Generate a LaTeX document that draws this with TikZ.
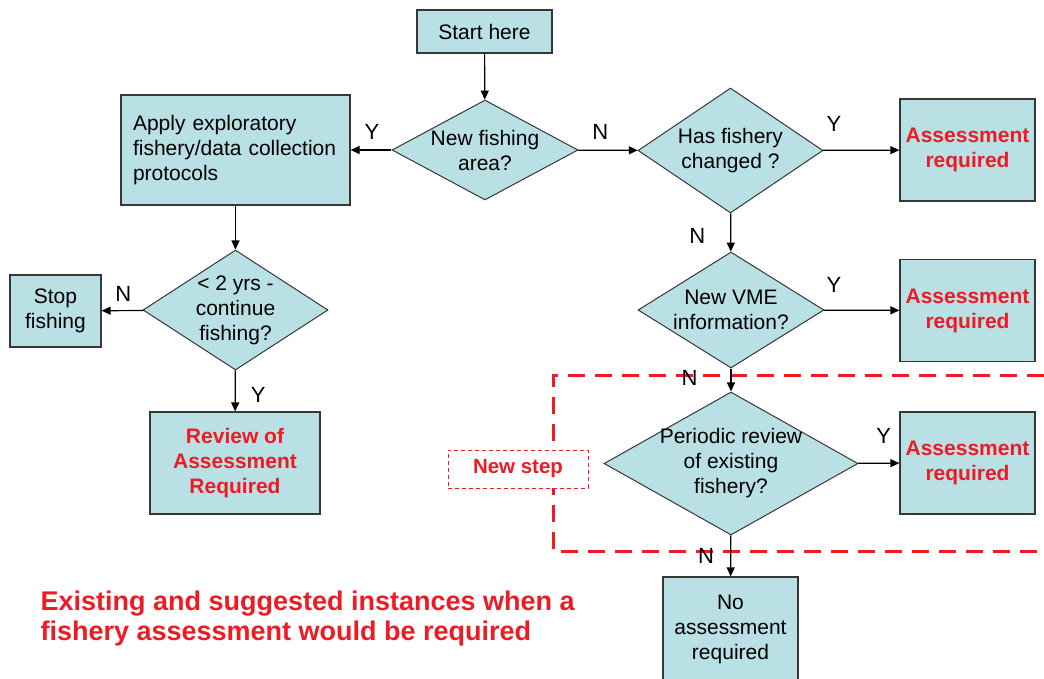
\documentclass[tikz,border=0pt]{standalone}
\usepackage{fontspec}
\setmainfont{Liberation Sans}
\usetikzlibrary{shapes.geometric,arrows.meta}
\definecolor{boxfill}{RGB}{185,224,228}
\definecolor{alertred}{RGB}{237,28,36}
\definecolor{edgegray}{RGB}{55,55,55}
\tikzset{
  box/.style={draw=edgegray, fill=boxfill, line width=1.2pt, inner sep=0pt, align=center, font=\fontsize{21}{25}\selectfont},
  decision/.style={diamond, draw=edgegray, fill=boxfill, line width=1pt, inner sep=0pt},
  dtext/.style={align=center, font=\fontsize{21}{25}\selectfont},
  arr/.style={-{Triangle[length=9pt,width=8pt]}, line width=1.2pt},
  lbl/.style={font=\fontsize{22}{24}\selectfont, inner sep=2pt},
  alert/.style={text=alertred, font=\bfseries\fontsize{21}{25}\selectfont},
}
\begin{document}
\begin{tikzpicture}[x=1pt,y=-1pt]
\useasboundingbox (0,0) rectangle (1044,679);

% new step frame
\draw[alertred, line width=3pt, dash pattern=on 17pt off 10pt] (1044,375) -- (553,375) -- (553,551) -- (1044,551);
\node[draw=alertred, fill=white, line width=0.8pt, dash pattern=on 4pt off 3pt, minimum width=140pt, minimum height=38pt, text=alertred, font=\bfseries\fontsize{20.5}{22}\selectfont] (newstep) at (518,469) {New step};

% boxes
\node[box, minimum width=135pt, minimum height=43pt] (start) at (484.5,31.5) {Start here};
\node[box, minimum width=229pt, minimum height=110pt, text width=205pt, align=left] (apply) at (235.5,150) {Apply exploratory\\fishery/data collection\\protocols};
\node[box, minimum width=91pt, minimum height=72pt] (stop) at (55.5,311) {Stop\\fishing};
\node[box, minimum width=170pt, minimum height=102pt, alert] (review) at (235,463) {Review of\\Assessment\\Required};
\node[box, minimum width=135pt, minimum height=102pt, alert] (assA) at (967.5,150) {Assessment\\required};
\node[box, minimum width=135pt, minimum height=102pt, alert] (assB) at (967.5,310.5) {Assessment\\required};
\node[box, minimum width=135pt, minimum height=102pt, alert] (assC) at (967.5,463) {Assessment\\required};
\node[box, minimum width=135pt, minimum height=104pt] (noass) at (730.5,629) {No\\assessment\\required};

% decisions
\node[decision, minimum width=186pt, minimum height=100pt, label={[dtext]center:New fishing\\area?}] (newarea) at (485,150) {};
\node[decision, minimum width=185pt, minimum height=125pt, label={[dtext]center:Has fishery\\changed ?}] (changed) at (730.5,150.5) {};
\node[decision, minimum width=186pt, minimum height=116pt, label={[dtext]center:New VME\\information?}] (vme) at (731,310) {};
\node[decision, minimum width=254pt, minimum height=143pt, label={[dtext]center:Periodic review\\of existing\\fishery?}] (periodic) at (731,463.5) {};
\node[decision, minimum width=185pt, minimum height=120pt, label={[dtext]center:< 2 yrs -\\continue\\fishing?}] (twoyrs) at (235.5,310) {};

% connectors
\draw[arr] (start) -- (newarea);
\draw[arr] (newarea) -- node[lbl, pos=0.48, above=8pt] {Y} (apply);
\draw[arr] (newarea) -- node[lbl, pos=0.37, above=8pt] {N} (changed);
\draw[arr] (changed) -- node[lbl, pos=0.14, above=16pt] {Y} (assA);
\draw[arr] (changed) -- node[lbl, pos=0.59, left=23pt] {N} (vme);
\draw[arr] (vme) -- node[lbl, pos=0.13, above=15pt] {Y} (assB);
\draw[arr] (vme) -- node[lbl, pos=0.42, left=31pt] {N} (periodic);
\draw[arr] (periodic) -- node[lbl, pos=0.62, above=17pt] {Y} (assC);
\draw[arr] (periodic) -- node[lbl, pos=0.5, left=14pt] {N} (noass);
\draw[arr] (apply) -- (twoyrs);
\draw[arr] (twoyrs) -- node[lbl, pos=0.48, above=7pt] {N} (stop);
\draw[arr] (twoyrs) -- node[lbl, pos=0.6, right=13pt] {Y} (review);

\node[alert, font=\bfseries\fontsize{27}{30}\selectfont, align=left, anchor=west] (caption) at (37,619) {Existing and suggested instances when a\\fishery assessment would be required};
\end{tikzpicture}
\end{document}
